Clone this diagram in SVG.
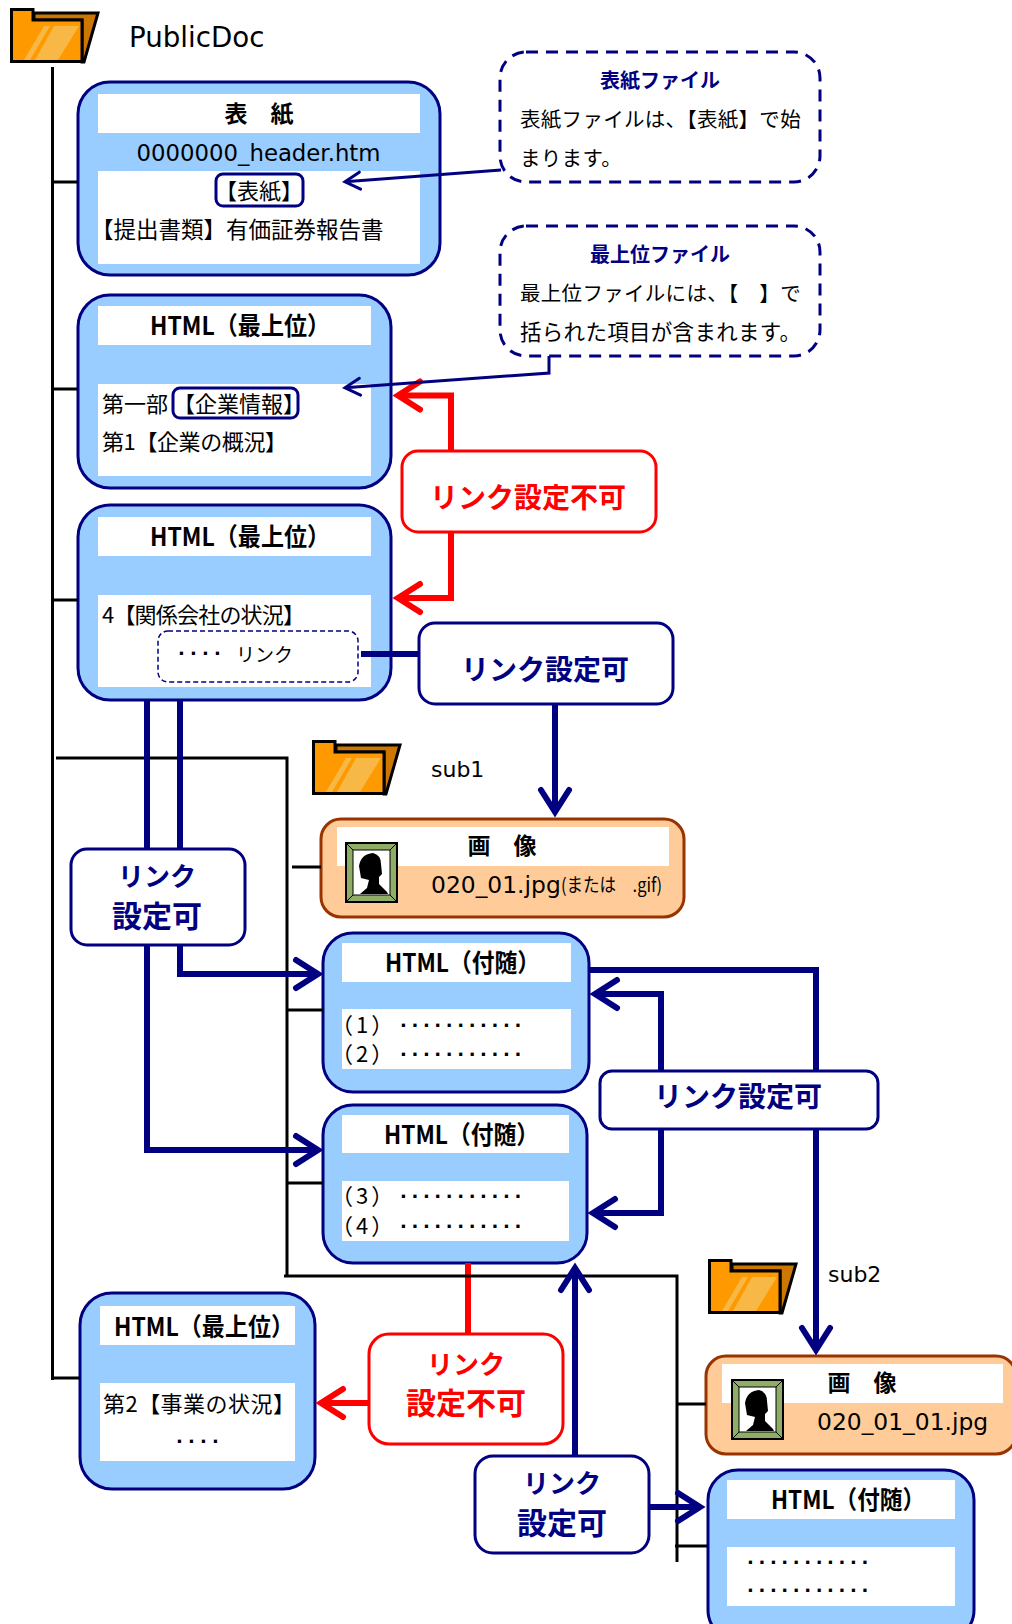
<svg xmlns="http://www.w3.org/2000/svg" width="1012" height="1624" viewBox="0 0 1012 1624">
<style>
text{font-family:"Noto Sans CJK JP","DejaVu Sans",sans-serif;fill:#000}
.lat{font-family:"DejaVu Sans",sans-serif}
.node{fill:#99ccff;stroke:#000080;stroke-width:3}
.img{fill:#ffcc99;stroke:#993300;stroke-width:3}
.w{fill:#fff;stroke:none}
.navybox{fill:#fff;stroke:#000080;stroke-width:3}
.redbox{fill:#fff;stroke:#ff0000;stroke-width:3}
.call{fill:#fff;stroke:#000080;stroke-width:3;stroke-dasharray:12 8}
.tree{fill:none;stroke:#000;stroke-width:3}
.nl{fill:none;stroke:#000080;stroke-width:6}
.rl{fill:none;stroke:#ff0000;stroke-width:6}
.thin{fill:none;stroke:#000080;stroke-width:3}
.title{font-weight:700;font-size:25px;text-anchor:middle}
.tx{font-size:22px}
.par{font-size:22px;letter-spacing:3px}
.ctitle{font-weight:700;font-size:20px;fill:#000080;text-anchor:middle}
.ctx{font-size:20.5px;letter-spacing:.3px}
.nt{font-weight:700;font-size:28px;fill:#000080;text-anchor:middle}
.rt{font-weight:700;font-size:28px;fill:#ff0000;text-anchor:middle}
.s{font-size:26px}
.l{font-size:30px}
.dots{font-family:"DejaVu Sans",sans-serif;font-weight:700;font-size:18px;letter-spacing:4.6px}
.dots4{font-family:"DejaVu Sans",sans-serif;font-weight:700;font-size:18px;letter-spacing:5.2px}
</style>
<defs>
<marker id="an" markerUnits="userSpaceOnUse" markerWidth="40" markerHeight="40" viewBox="-30 -20 40 40" refX="0" refY="0" orient="auto"><path d="M-22,-14 L0,0 L-22,14" fill="none" stroke="#000080" stroke-width="6" stroke-linecap="round"/></marker>
<marker id="ar" markerUnits="userSpaceOnUse" markerWidth="40" markerHeight="40" viewBox="-30 -20 40 40" refX="0" refY="0" orient="auto"><path d="M-22,-14 L0,0 L-22,14" fill="none" stroke="#ff0000" stroke-width="6" stroke-linecap="round"/></marker>
<marker id="at" markerUnits="userSpaceOnUse" markerWidth="30" markerHeight="30" viewBox="-22 -15 30 30" refX="0" refY="0" orient="auto"><path d="M-15,-8.500 L0,0 L-15,8.500" fill="none" stroke="#000080" stroke-width="3" stroke-linecap="round"/></marker>
<g id="folder">
<path d="M24,5 H88 L74,54 H72 V12 H24 Z" fill="#cc7700" stroke="#000" stroke-width="3"/>
<path d="M1.500,1.500 H23 V12 H72 V53.500 H1.500 Z" fill="#ff9900" stroke="#000" stroke-width="3"/>
<path d="M14,52 L34,18 H40 L20,52 Z M25,52 L44,18 H69 L48,52 Z" fill="#f8b845"/>
</g>
<g id="pic">
<rect x="1" y="1" width="51" height="59" fill="#8fad66" stroke="#000" stroke-width="2"/>
<path d="M1,1 L9,9 M52,1 L44,9 M1,60 L9,52 M52,60 L44,52" stroke="#000" stroke-width="1"/>
<rect x="8" y="8" width="37" height="45" fill="#fff" stroke="#000" stroke-width="1"/>
<path d="M15,52 L22,46 L24,38 L16,36 L15,30 L14,24 Q16,12 28,11 Q36,13 36,22 L37,32 L34,35 L34,42 L42,50 L43,52 Z" fill="#000"/>
</g>
</defs>

<g id="root-folder"><use href="#folder" x="10" y="8"/><text class="lat" x="129" y="47" font-size="27.700">PublicDoc</text></g>

<g id="node-cover">
<rect class="node" x="78" y="82" width="362" height="193" rx="32"/>
<rect class="w" x="98" y="94" width="322" height="39"/>
<rect class="w" x="98" y="171" width="322" height="93"/>
<text class="title" x="259" y="122" style="font-size:23px">表　紙</text>
<text class="lat" x="258.500" y="161" font-size="22.800" text-anchor="middle">0000000_header.htm</text>
<rect x="216" y="174" width="87" height="32" rx="7" fill="#fff" stroke="#000080" stroke-width="3"/>
<text class="tx" x="215" y="199">【表紙】</text>
<text class="tx" x="91" y="238" style="font-size:22.500px">【提出書類】有価証券報告書</text>
</g>

<g id="callout-cover">
<rect class="call" x="500" y="52" width="320" height="130" rx="26"/>
<text class="ctitle" x="660" y="88">表紙ファイル</text>
<text class="ctx" x="520" y="127">表紙ファイルは、【表紙】で始</text>
<text class="ctx" x="520" y="166">まります。</text>
</g>

<g id="callout-top">
<rect class="call" x="500" y="226" width="320" height="130" rx="26"/>
<text class="ctitle" x="660" y="262">最上位ファイル</text>
<text class="ctx" x="520" y="301">最上位ファイルには、【　】で</text>
<text class="ctx" x="520" y="340" style="font-size:21.500px">括られた項目が含まれます。</text>
</g>

<g id="node-html-top1">
<rect class="node" x="78" y="295" width="313" height="193" rx="32"/>
<rect class="w" x="98" y="306" width="273" height="39"/>
<rect class="w" x="98" y="384" width="273" height="92"/>
<text class="title" x="240" y="335" textLength="180" lengthAdjust="spacingAndGlyphs">HTML（最上位）</text>
<text class="tx" x="102" y="412">第一部</text>
<rect x="173" y="388" width="125" height="30" rx="7" fill="#fff" stroke="#000080" stroke-width="3"/>
<text class="tx" x="173" y="412">【企業情報】</text>
<text class="tx" x="102" y="450" textLength="185" lengthAdjust="spacing">第1【企業の概況】</text>
</g>

<g id="node-html-top2">
<rect class="node" x="78" y="505" width="313" height="195" rx="32"/>
<rect class="w" x="98" y="517" width="273" height="39"/>
<rect class="w" x="98" y="595" width="273" height="92"/>
<text class="title" x="240" y="546" textLength="180" lengthAdjust="spacingAndGlyphs">HTML（最上位）</text>
<text class="tx" x="102" y="623" textLength="203" lengthAdjust="spacing">4【関係会社の状況】</text>
<rect x="158" y="631" width="200" height="51" rx="10" fill="#fff" stroke="#000080" stroke-width="1.500" stroke-dasharray="5 3"/>
<text class="dots4" x="178" y="660">····</text>
<text class="tx" x="236" y="662" style="font-size:19px">リンク</text>
</g>

<g id="box-ng1"><rect class="redbox" x="402" y="451" width="254" height="81" rx="16"/><text class="rt" x="528" y="508">リンク設定不可</text></g>
<g id="box-ok1"><rect class="navybox" x="419" y="623" width="254" height="81" rx="16"/><text class="nt" x="545" y="680">リンク設定可</text></g>

<g id="folder-sub1"><use href="#folder" x="312" y="740"/><text class="lat" x="431" y="777" font-size="22">sub1</text></g>

<g id="node-image1">
<rect class="img" x="321" y="819" width="363" height="98" rx="20"/>
<rect class="w" x="337" y="827" width="332" height="39"/>
<text class="title" x="502" y="854" style="font-size:23px">画　像</text>
<use href="#pic" x="345" y="842"/>
<text class="lat" x="431" y="893" font-size="23.400">020_01.jpg</text>
<text x="561" y="892" font-size="19" textLength="101" lengthAdjust="spacingAndGlyphs">(または　.gif)</text>
</g>

<g id="box-ok2"><rect class="navybox" x="71" y="849" width="174" height="96" rx="16"/><text class="nt s" x="157" y="886">リンク</text><text class="nt l" x="157" y="927">設定可</text></g>

<g id="node-sub1">
<rect class="node" x="323" y="933" width="266" height="159" rx="30"/>
<rect class="w" x="342" y="943" width="229" height="39"/>
<rect class="w" x="342" y="1009" width="229" height="60"/>
<text class="title" x="462.500" y="972" textLength="155" lengthAdjust="spacingAndGlyphs">HTML（付随）</text>
<text class="par" x="331" y="1033">（1）</text>
<text class="dots" x="400" y="1032">···········</text>
<text class="par" x="331" y="1062">（2）</text>
<text class="dots" x="400" y="1061">···········</text>
</g>

<g id="node-sub2">
<rect class="node" x="323" y="1105" width="264" height="158" rx="30"/>
<rect class="w" x="342" y="1115" width="227" height="38"/>
<rect class="w" x="342" y="1181" width="227" height="60"/>
<text class="title" x="461.500" y="1144" textLength="155" lengthAdjust="spacingAndGlyphs">HTML（付随）</text>
<text class="par" x="331" y="1204">（3）</text>
<text class="dots" x="400" y="1203">···········</text>
<text class="par" x="331" y="1234">（4）</text>
<text class="dots" x="400" y="1233">···········</text>
</g>

<g id="box-ok3"><rect class="navybox" x="600" y="1071" width="278" height="58" rx="12"/><text class="nt" x="738" y="1107">リンク設定可</text></g>

<g id="folder-sub2"><use href="#folder" x="708" y="1259"/><text class="lat" x="828" y="1282" font-size="22">sub2</text></g>

<g id="node-image2">
<rect class="img" x="706" y="1356" width="310" height="98" rx="20"/>
<rect class="w" x="722" y="1364" width="281" height="39"/>
<text class="title" x="862" y="1391" style="font-size:23px">画　像</text>
<use href="#pic" x="731" y="1379"/>
<text class="lat" x="817" y="1430" font-size="23.400">020_01_01.jpg</text>
</g>

<g id="node-top3">
<rect class="node" x="80" y="1293" width="235" height="196" rx="32"/>
<rect class="w" x="100" y="1306" width="195" height="39"/>
<rect class="w" x="100" y="1383" width="195" height="78"/>
<text class="title" x="204" y="1336" textLength="180" lengthAdjust="spacingAndGlyphs">HTML（最上位）</text>
<text class="tx" x="103" y="1412" textLength="192" lengthAdjust="spacing">第2【事業の状況】</text>
<text class="dots4" x="176" y="1448">····</text>
</g>

<g id="box-ng2"><rect class="redbox" x="369" y="1334" width="194" height="110" rx="20"/><text class="rt s" x="466" y="1374">リンク</text><text class="rt l" x="466" y="1414">設定不可</text></g>
<g id="box-ok4"><rect class="navybox" x="475" y="1456" width="174" height="97" rx="18"/><text class="nt s" x="562" y="1493">リンク</text><text class="nt l" x="562" y="1534">設定可</text></g>

<g id="node-sub3">
<rect class="node" x="708" y="1470" width="266" height="170" rx="30"/>
<rect class="w" x="727" y="1480" width="228" height="39"/>
<rect class="w" x="727" y="1547" width="228" height="59"/>
<text class="title" x="848" y="1509" textLength="154" lengthAdjust="spacingAndGlyphs">HTML（付随）</text>
<text class="dots" x="747" y="1569">···········</text>
<text class="dots" x="747" y="1597">···········</text>
</g>

<g id="connectors">
<path class="rl" d="M451,451 V395.500 H398" marker-end="url(#ar)"/>
<path class="rl" d="M451,532 V598 H398" marker-end="url(#ar)"/>
<path class="rl" d="M468,1263 V1334"/>
<path class="rl" d="M369,1403 H321" marker-end="url(#ar)"/>
<path class="tree" d="M52.500,67 V1380"/>
<path class="tree" d="M52.500,182 H78 M52.500,389 H78 M52.500,600 H78 M51,1378 H80"/>
<path class="tree" d="M56,758 H287 V1276 M292,867 H321 M287,1010 H323 M287,1183 H323"/>
<path class="tree" d="M284,1276 H677 V1562 M677,1404 H706 M675,1546 H708"/>
<path class="thin" d="M501,170 L345,181.800" marker-end="url(#at)"/>
<path class="thin" d="M549,356 V373 L345,387.800" marker-end="url(#at)"/>
<path class="nl" d="M361,654 H419"/>
<path class="nl" d="M555,704 V812" marker-end="url(#an)"/>
<path class="nl" d="M147,700 V849"/>
<path class="nl" d="M180,700 V849"/>
<path class="nl" d="M180,945 V974 H318" marker-end="url(#an)"/>
<path class="nl" d="M147,945 V1150 H318" marker-end="url(#an)"/>
<path class="nl" d="M589,970 H816 V1071"/>
<path class="nl" d="M816,1129 V1350" marker-end="url(#an)"/>
<path class="nl" d="M661,1071 V994 H595" marker-end="url(#an)"/>
<path class="nl" d="M661,1129 V1213 H593" marker-end="url(#an)"/>
<path class="nl" d="M575,1456 V1268" marker-end="url(#an)"/>
<path class="nl" d="M649,1507 H700" marker-end="url(#an)"/>
</g>
</svg>
